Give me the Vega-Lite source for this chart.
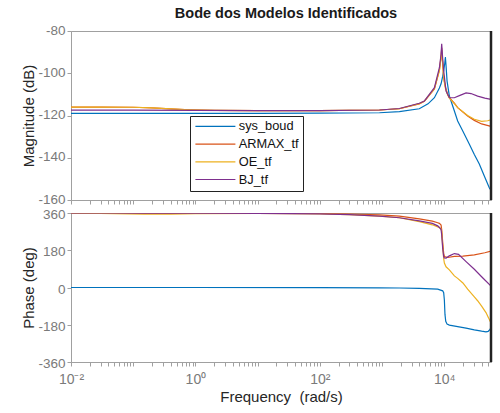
{
"$schema": "https://vega.github.io/schema/vega-lite/v6.json",
"background": "white",
"padding": {"left": 21, "top": 5, "right": 0, "bottom": 0},
"bounds": "flush",
"config": {
  "font": "Liberation Sans",
  "view": {"stroke": "#a0a0a0", "strokeWidth": 1},
  "axis": {"grid": false, "domainColor": "#a0a0a0", "tickColor": "#a0a0a0", "labelColor": "#7a7a7a", "titleColor": "#262626", "labelFontSize": 13.5, "titleFontSize": 15, "titleFontWeight": "normal", "labelFont": "Liberation Sans", "titleFont": "Liberation Sans"}
},
"datasets": {
  "mag": [
    {"f":0.01,"model":"sys_boud","v":-119.0},{"f":0.1,"model":"sys_boud","v":-119.0},{"f":1,"model":"sys_boud","v":-119.0},{"f":10,"model":"sys_boud","v":-119.0},{"f":100,"model":"sys_boud","v":-118.9},{"f":912,"model":"sys_boud","v":-118.7},{"f":1905,"model":"sys_boud","v":-118.2},{"f":3981,"model":"sys_boud","v":-116.8},{"f":5500,"model":"sys_boud","v":-114.5},{"f":6966,"model":"sys_boud","v":-111.6},{"f":8375,"model":"sys_boud","v":-107.0},{"f":8913,"model":"sys_boud","v":-105.0},{"f":9460,"model":"sys_boud","v":-101.5},{"f":9817,"model":"sys_boud","v":-98.9},{"f":10200,"model":"sys_boud","v":-95.5},{"f":10450,"model":"sys_boud","v":-92.3},{"f":10720,"model":"sys_boud","v":-96.5},{"f":11130,"model":"sys_boud","v":-103.7},{"f":12110,"model":"sys_boud","v":-110.8},{"f":14590,"model":"sys_boud","v":-117.9},{"f":16480,"model":"sys_boud","v":-122.6},{"f":20000,"model":"sys_boud","v":-127.5},{"f":25300,"model":"sys_boud","v":-133.5},{"f":30530,"model":"sys_boud","v":-138.5},{"f":36700,"model":"sys_boud","v":-143.0},{"f":44000,"model":"sys_boud","v":-148.5},{"f":53100,"model":"sys_boud","v":-154.2},{"f":56600,"model":"sys_boud","v":-155.5},
    {"f":0.01,"model":"ARMAX_tf","v":-116.0},{"f":0.03,"model":"ARMAX_tf","v":-116.0},{"f":0.1,"model":"ARMAX_tf","v":-116.1},{"f":0.2,"model":"ARMAX_tf","v":-116.4},{"f":0.4,"model":"ARMAX_tf","v":-116.9},{"f":0.8,"model":"ARMAX_tf","v":-117.3},{"f":2,"model":"ARMAX_tf","v":-117.6},{"f":10,"model":"ARMAX_tf","v":-117.7},{"f":100,"model":"ARMAX_tf","v":-117.7},{"f":912,"model":"ARMAX_tf","v":-117.4},{"f":1905,"model":"ARMAX_tf","v":-116.8},{"f":3981,"model":"ARMAX_tf","v":-114.5},{"f":4808,"model":"ARMAX_tf","v":-113.3},{"f":6966,"model":"ARMAX_tf","v":-107.5},{"f":8375,"model":"ARMAX_tf","v":-98.5},{"f":8913,"model":"ARMAX_tf","v":-92.0},{"f":9120,"model":"ARMAX_tf","v":-88.0},{"f":9460,"model":"ARMAX_tf","v":-95.0},{"f":9817,"model":"ARMAX_tf","v":-102.0},{"f":10450,"model":"ARMAX_tf","v":-106.5},{"f":11380,"model":"ARMAX_tf","v":-110.0},{"f":12110,"model":"ARMAX_tf","v":-111.5},{"f":14590,"model":"ARMAX_tf","v":-114.2},{"f":16480,"model":"ARMAX_tf","v":-116.3},{"f":23830,"model":"ARMAX_tf","v":-120.2},{"f":30530,"model":"ARMAX_tf","v":-122.3},{"f":40000,"model":"ARMAX_tf","v":-124.0},{"f":56600,"model":"ARMAX_tf","v":-125.2},
    {"f":0.01,"model":"OE_tf","v":-116.0},{"f":0.03,"model":"OE_tf","v":-116.0},{"f":0.1,"model":"OE_tf","v":-116.1},{"f":0.2,"model":"OE_tf","v":-116.4},{"f":0.4,"model":"OE_tf","v":-116.9},{"f":0.8,"model":"OE_tf","v":-117.3},{"f":2,"model":"OE_tf","v":-117.6},{"f":10,"model":"OE_tf","v":-117.7},{"f":100,"model":"OE_tf","v":-117.7},{"f":912,"model":"OE_tf","v":-117.4},{"f":1905,"model":"OE_tf","v":-116.8},{"f":3981,"model":"OE_tf","v":-114.4},{"f":4808,"model":"OE_tf","v":-113.2},{"f":6966,"model":"OE_tf","v":-107.3},{"f":8375,"model":"OE_tf","v":-98.8},{"f":8913,"model":"OE_tf","v":-93.0},{"f":9120,"model":"OE_tf","v":-89.0},{"f":9460,"model":"OE_tf","v":-95.5},{"f":9817,"model":"OE_tf","v":-102.5},{"f":10450,"model":"OE_tf","v":-107.0},{"f":11380,"model":"OE_tf","v":-110.3},{"f":12110,"model":"OE_tf","v":-111.8},{"f":14590,"model":"OE_tf","v":-114.4},{"f":16480,"model":"OE_tf","v":-116.3},{"f":23830,"model":"OE_tf","v":-120.0},{"f":30530,"model":"OE_tf","v":-121.8},{"f":40000,"model":"OE_tf","v":-122.8},{"f":50000,"model":"OE_tf","v":-122.5},{"f":56600,"model":"OE_tf","v":-122.0},
    {"f":0.01,"model":"BJ_tf","v":-117.5},{"f":0.1,"model":"BJ_tf","v":-117.5},{"f":1,"model":"BJ_tf","v":-117.6},{"f":10,"model":"BJ_tf","v":-117.7},{"f":100,"model":"BJ_tf","v":-117.7},{"f":912,"model":"BJ_tf","v":-117.4},{"f":1905,"model":"BJ_tf","v":-116.7},{"f":3981,"model":"BJ_tf","v":-114.2},{"f":4808,"model":"BJ_tf","v":-113.1},{"f":6966,"model":"BJ_tf","v":-106.8},{"f":8375,"model":"BJ_tf","v":-97.4},{"f":8913,"model":"BJ_tf","v":-91.0},{"f":9120,"model":"BJ_tf","v":-86.0},{"f":9460,"model":"BJ_tf","v":-93.0},{"f":9817,"model":"BJ_tf","v":-98.9},{"f":10720,"model":"BJ_tf","v":-108.4},{"f":12110,"model":"BJ_tf","v":-111.6},{"f":14590,"model":"BJ_tf","v":-111.6},{"f":17540,"model":"BJ_tf","v":-110.6},{"f":22490,"model":"BJ_tf","v":-109.3},{"f":27000,"model":"BJ_tf","v":-109.6},{"f":34500,"model":"BJ_tf","v":-110.8},{"f":45000,"model":"BJ_tf","v":-111.8},{"f":56600,"model":"BJ_tf","v":-112.4}
  ],
  "phase": [
    {"f":0.01,"model":"sys_boud","v":0},{"f":1,"model":"sys_boud","v":0},{"f":100,"model":"sys_boud","v":-0.3},{"f":912,"model":"sys_boud","v":-1.5},{"f":1905,"model":"sys_boud","v":-2.5},{"f":3981,"model":"sys_boud","v":-4},{"f":7870,"model":"sys_boud","v":-8},{"f":9460,"model":"sys_boud","v":-16},{"f":9817,"model":"sys_boud","v":-25},{"f":10070,"model":"sys_boud","v":-60},{"f":10300,"model":"sys_boud","v":-130},{"f":10600,"model":"sys_boud","v":-163},{"f":11130,"model":"sys_boud","v":-177},{"f":12110,"model":"sys_boud","v":-182},{"f":16480,"model":"sys_boud","v":-189},{"f":22490,"model":"sys_boud","v":-196},{"f":30530,"model":"sys_boud","v":-205},{"f":40000,"model":"sys_boud","v":-211},{"f":47000,"model":"sys_boud","v":-214},{"f":51000,"model":"sys_boud","v":-212},{"f":54500,"model":"sys_boud","v":-202},{"f":56600,"model":"sys_boud","v":-195},
    {"f":0.01,"model":"ARMAX_tf","v":360},{"f":1,"model":"ARMAX_tf","v":359.5},{"f":10,"model":"ARMAX_tf","v":359},{"f":100,"model":"ARMAX_tf","v":357.5},{"f":300,"model":"ARMAX_tf","v":355},{"f":912,"model":"ARMAX_tf","v":351},{"f":1905,"model":"ARMAX_tf","v":345},{"f":3981,"model":"ARMAX_tf","v":332},{"f":6457,"model":"ARMAX_tf","v":321},{"f":7870,"model":"ARMAX_tf","v":313},{"f":8375,"model":"ARMAX_tf","v":310},{"f":8913,"model":"ARMAX_tf","v":302},{"f":9120,"model":"ARMAX_tf","v":280},{"f":9460,"model":"ARMAX_tf","v":220},{"f":9817,"model":"ARMAX_tf","v":165},{"f":10070,"model":"ARMAX_tf","v":150},{"f":11380,"model":"ARMAX_tf","v":145},{"f":14590,"model":"ARMAX_tf","v":150},{"f":20000,"model":"ARMAX_tf","v":152},{"f":30530,"model":"ARMAX_tf","v":158},{"f":45000,"model":"ARMAX_tf","v":168},{"f":56600,"model":"ARMAX_tf","v":176},
    {"f":0.01,"model":"OE_tf","v":360},{"f":0.05,"model":"OE_tf","v":357},{"f":0.15,"model":"OE_tf","v":354},{"f":0.4,"model":"OE_tf","v":355},{"f":1,"model":"OE_tf","v":357},{"f":10,"model":"OE_tf","v":358},{"f":100,"model":"OE_tf","v":356},{"f":300,"model":"OE_tf","v":352},{"f":912,"model":"OE_tf","v":345},{"f":1905,"model":"OE_tf","v":337},{"f":3981,"model":"OE_tf","v":318},{"f":6457,"model":"OE_tf","v":303},{"f":7870,"model":"OE_tf","v":293},{"f":8375,"model":"OE_tf","v":290},{"f":8913,"model":"OE_tf","v":283},{"f":9120,"model":"OE_tf","v":270},{"f":9460,"model":"OE_tf","v":200},{"f":9817,"model":"OE_tf","v":140},{"f":10070,"model":"OE_tf","v":118},{"f":10720,"model":"OE_tf","v":100},{"f":12110,"model":"OE_tf","v":85},{"f":14590,"model":"OE_tf","v":56},{"f":16480,"model":"OE_tf","v":44},{"f":20000,"model":"OE_tf","v":22},{"f":23830,"model":"OE_tf","v":-8},{"f":30530,"model":"OE_tf","v":-45},{"f":34500,"model":"OE_tf","v":-64},{"f":40000,"model":"OE_tf","v":-90},{"f":47000,"model":"OE_tf","v":-121},{"f":52000,"model":"OE_tf","v":-148},{"f":54500,"model":"OE_tf","v":-162},{"f":56600,"model":"OE_tf","v":-170},
    {"f":0.01,"model":"BJ_tf","v":360},{"f":1,"model":"BJ_tf","v":359.5},{"f":10,"model":"BJ_tf","v":358.5},{"f":100,"model":"BJ_tf","v":356},{"f":300,"model":"BJ_tf","v":352},{"f":912,"model":"BJ_tf","v":345},{"f":1905,"model":"BJ_tf","v":337},{"f":3981,"model":"BJ_tf","v":322},{"f":6457,"model":"BJ_tf","v":310},{"f":7870,"model":"BJ_tf","v":298},{"f":8375,"model":"BJ_tf","v":290},{"f":8913,"model":"BJ_tf","v":280},{"f":9120,"model":"BJ_tf","v":255},{"f":9460,"model":"BJ_tf","v":190},{"f":9817,"model":"BJ_tf","v":150},{"f":10070,"model":"BJ_tf","v":143},{"f":10720,"model":"BJ_tf","v":142},{"f":12110,"model":"BJ_tf","v":153},{"f":14590,"model":"BJ_tf","v":164},{"f":17000,"model":"BJ_tf","v":160},{"f":22490,"model":"BJ_tf","v":125},{"f":30530,"model":"BJ_tf","v":88},{"f":40000,"model":"BJ_tf","v":52},{"f":56600,"model":"BJ_tf","v":7}
  ],
  "edge": [{"f":56600}]
},
"spacing": 13,
"resolve": {"scale": {"color": "independent"}, "legend": {"color": "independent"}},
"vconcat": [
  {
    "width": 420, "height": 169,
    "title": {"text": "Bode dos Modelos Identificados", "fontSize": 14.5, "fontWeight": "bold", "font": "Liberation Sans", "color": "#1a1a1a", "offset": 2, "dx": 5},
    "layer": [
      {
        "data": {"name": "mag"},
        "mark": {"type": "line", "strokeWidth": 1.2, "clip": true},
        "encoding": {
          "x": {"field": "f", "type": "quantitative", "scale": {"type": "log", "domain": [0.01, 56600], "nice": false},
                "axis": {"title": null, "labels": false, "tickSize": 4, "values": [0.01,0.02,0.03,0.04,0.05,0.06,0.07,0.08,0.09,0.1,0.2,0.3,0.4,0.5,0.6,0.7,0.8,0.9,1,2,3,4,5,6,7,8,9,10,20,30,40,50,60,70,80,90,100,200,300,400,500,600,700,800,900,1000,2000,3000,4000,5000,6000,7000,8000,9000,10000,20000,30000,40000,50000]}},
          "y": {"field": "v", "type": "quantitative", "scale": {"domain": [-160, -80], "nice": false},
                "axis": {"title": "Magnitude (dB)", "values": [-160,-140,-120,-100,-80], "labelExpr": "replace(datum.label, '\u2212', '-')", "labelOffset": -1, "tickSize": 4, "labelPadding": 2, "titlePadding": 1}},
          "color": {"field": "model", "type": "nominal",
                    "scale": {"domain": ["sys_boud","ARMAX_tf","OE_tf","BJ_tf"], "range": ["#0072BD","#D95319","#EDB120","#7E2F8E"]},
                    "legend": {"orient": "none", "legendX": 119, "legendY": 85, "title": null, "symbolType": "M-4,0H4", "symbolSize": 100, "symbolStrokeWidth": 1.2, "symbolOffset": 15, "labelOffset": 17, "labelFontSize": 12.8, "labelFont": "Liberation Sans", "labelColor": "#111111", "strokeColor": "#222222", "fillColor": "white", "padding": 4, "rowPadding": 3.7}}
        }
      },
      {
        "data": {"name": "edge"},
        "mark": {"type": "rule", "color": "#222222", "strokeWidth": 2.5},
        "encoding": {"x": {"field": "f", "type": "quantitative"}}
      }
    ]
  },
  {
    "width": 420, "height": 149,
    "layer": [
      {
        "data": {"name": "phase"},
        "mark": {"type": "line", "strokeWidth": 1.2, "clip": true},
        "encoding": {
          "x": {"field": "f", "type": "quantitative", "scale": {"type": "log", "domain": [0.01, 56600], "nice": false},
                "axis": {"title": "Frequency \u00a0(rad/s)", "tickSize": 4, "labelFlush": false, "labelPadding": 6, "titlePadding": 3, "labelFontSize": 14,
                         "labelExpr": "datum.value == 0.01 ? '10\u207b\u00b2' : datum.value == 1 ? '10\u2070' : datum.value == 100 ? '10\u00b2' : datum.value == 10000 ? '10\u2074' : ''",
                         "values": [0.01,0.02,0.03,0.04,0.05,0.06,0.07,0.08,0.09,0.1,0.2,0.3,0.4,0.5,0.6,0.7,0.8,0.9,1,2,3,4,5,6,7,8,9,10,20,30,40,50,60,70,80,90,100,200,300,400,500,600,700,800,900,1000,2000,3000,4000,5000,6000,7000,8000,9000,10000,20000,30000,40000,50000]}},
          "y": {"field": "v", "type": "quantitative", "scale": {"domain": [-360, 360], "nice": false},
                "axis": {"title": "Phase (deg)", "values": [-360,-180,0,180,360], "labelExpr": "replace(datum.label, '\u2212', '-')", "labelOffset": 1.5, "tickSize": 4, "labelPadding": 2, "titlePadding": 1}},
          "color": {"field": "model", "type": "nominal",
                    "scale": {"domain": ["sys_boud","ARMAX_tf","OE_tf","BJ_tf"], "range": ["#0072BD","#D95319","#EDB120","#7E2F8E"]},
                    "legend": null}
        }
      },
      {
        "data": {"name": "edge"},
        "mark": {"type": "rule", "color": "#222222", "strokeWidth": 2.5},
        "encoding": {"x": {"field": "f", "type": "quantitative"}}
      }
    ]
  }
]
}
